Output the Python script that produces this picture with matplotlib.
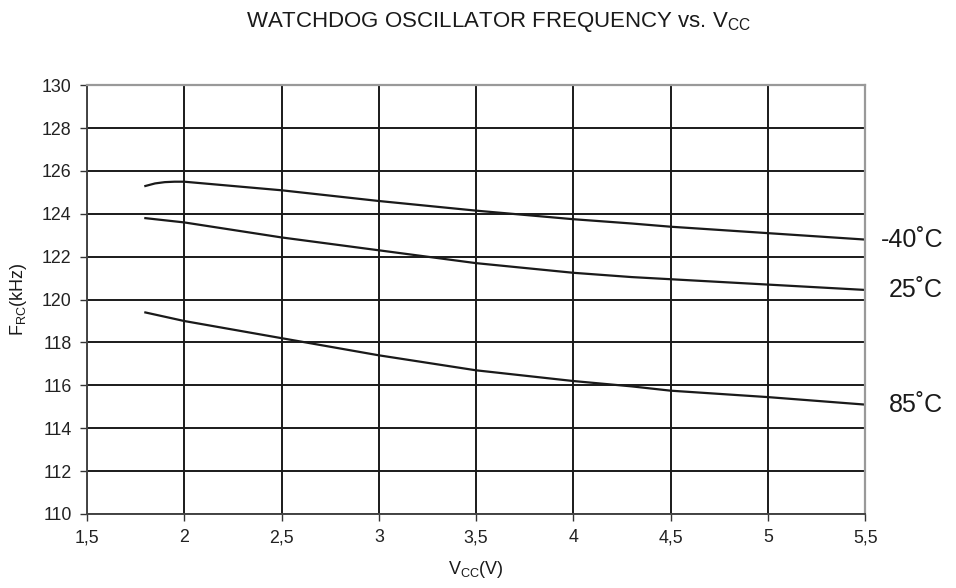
import matplotlib
matplotlib.use("Agg")
import matplotlib.pyplot as plt

plt.rcParams["font.family"] = ["Liberation Sans", "DejaVu Sans"]
plt.rcParams["mathtext.fontset"] = "custom"
plt.rcParams["mathtext.rm"] = "Liberation Sans"
plt.rcParams["mathtext.it"] = "Liberation Sans"

vcc = [1.8, 1.85, 1.9, 1.95, 2.0, 2.5, 3.0, 3.5, 4.0, 4.3, 4.5, 5.0, 5.5]
f_m40 = [125.3, 125.42, 125.48, 125.5, 125.5, 125.1, 124.6, 124.15, 123.75, 123.55, 123.4, 123.1, 122.8]
f_25 = [123.8, 123.75, 123.7, 123.65, 123.6, 122.9, 122.3, 121.7, 121.25, 121.05, 120.95, 120.7, 120.45]
f_85 = [119.4, 119.3, 119.2, 119.1, 119.0, 118.2, 117.4, 116.7, 116.2, 115.95, 115.75, 115.45, 115.1]
temps = ["-40˚C", "25˚C", "85˚C"]
series = [f_m40, f_25, f_85]

xticks = [1.5, 2, 2.5, 3, 3.5, 4, 4.5, 5, 5.5]
xtick_labels = ["1,5", "2", "2,5", "3", "3,5", "4", "4,5", "5", "5,5"]
yticks = list(range(110, 131, 2))

fig = plt.figure(figsize=(9.56, 5.88), dpi=100)
ax = fig.add_axes([0.091, 0.126, 0.814, 0.729])

for vals in series:
    ax.plot(vcc, vals, color="#1a1a1a", linewidth=1.6)

ax.set_xlim(1.5, 5.5)
ax.set_ylim(110, 130)
ax.set_xticks(xticks)
ax.set_xticklabels(xtick_labels)
ax.set_yticks(yticks)
ax.grid(True, color="#1a1a1a", linewidth=1.4)
ax.set_axisbelow(True)
ax.tick_params(labelsize=12.8, length=5, width=1, color="#333333", pad=6, labelcolor="#222222")

for side in ["top", "right"]:
    ax.spines[side].set_color("#999999")
    ax.spines[side].set_linewidth(1.6)
for side in ["left", "bottom"]:
    ax.spines[side].set_color("#444444")
    ax.spines[side].set_linewidth(1.4)

for label, vals, dx in zip(temps, series, [11, 17, 17]):
    ax.annotate(label, xy=(5.5, vals[-1]), xytext=(dx, 0),
                textcoords="offset points", va="center", ha="left",
                fontsize=18, color="#1a1a1a", annotation_clip=False)

fig.text(0.521, 0.963, r"WATCHDOG OSCILLATOR FREQUENCY vs. V$_{\mathregular{CC}}$",
         ha="center", va="center", fontsize=16, color="#1a1a1a")
ax.set_xlabel(r"V$_{\mathregular{CC}}$(V)", fontsize=13, color="#1a1a1a", labelpad=9)
ax.set_ylabel(r"F$_{\mathregular{RC}}$(kHz)", fontsize=13, color="#1a1a1a", labelpad=9)

fig.savefig("out.png", dpi=100)
